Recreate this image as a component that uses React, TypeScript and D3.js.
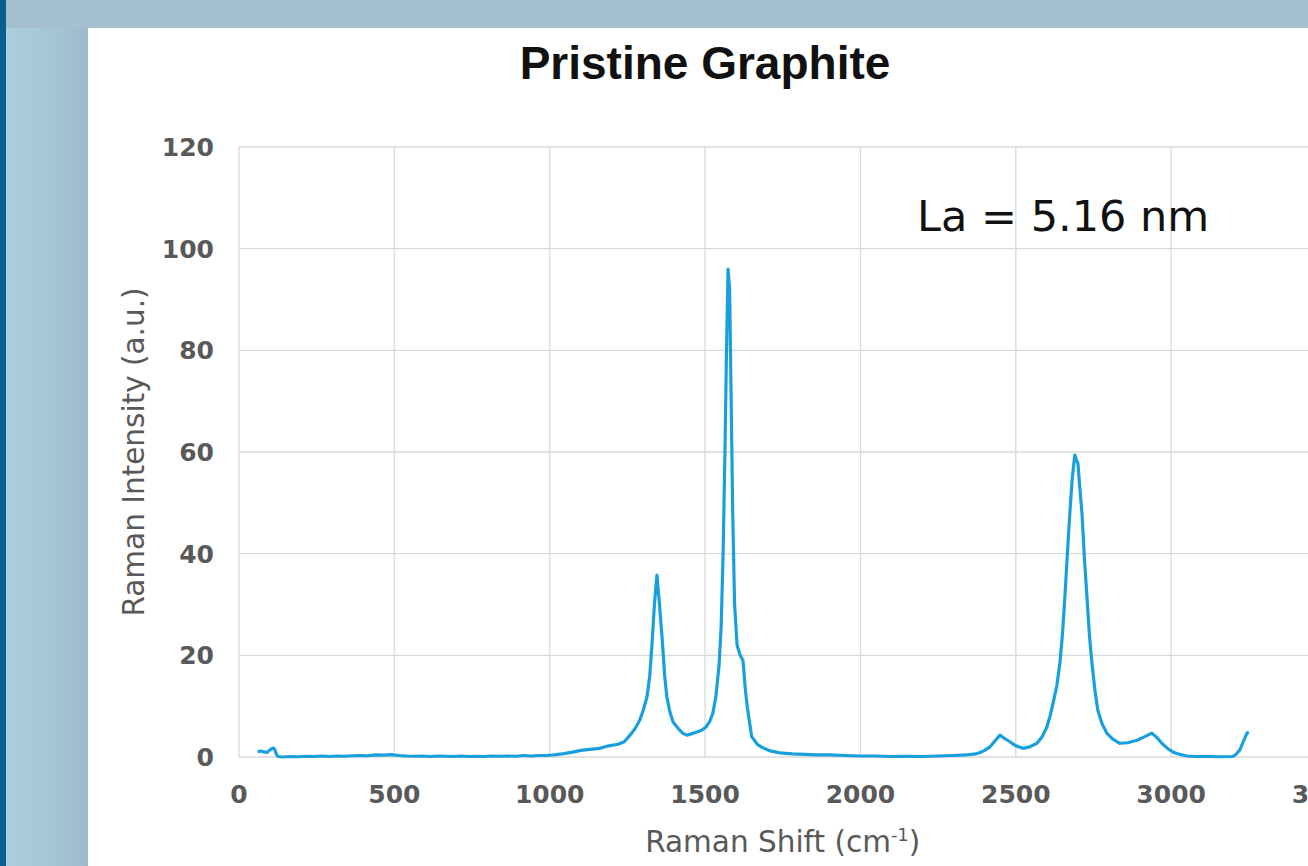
import * as d3 from "d3";

// Raman spectrum (cm-1 vs a.u.)
const ramanShift = [
  60, 70, 80, 90, 100, 110, 115, 120, 125, 140, 165, 190, 215, 240, 265, 290, 315, 340, 365, 390, 415,
  440, 465, 490, 515, 540, 565, 590, 615, 640, 665, 690, 715, 740, 765, 790, 815, 840, 865, 890, 915,
  940, 965, 990, 1000, 1020, 1040, 1070, 1100, 1130, 1160, 1190, 1220, 1240, 1260, 1275, 1290, 1300,
  1313, 1322, 1330, 1337, 1345, 1352, 1361, 1370, 1377, 1387, 1397, 1415, 1430, 1442, 1458, 1474, 1490,
  1503, 1515, 1525, 1535, 1545, 1552, 1558, 1564, 1569, 1574, 1579, 1584, 1589, 1595, 1603, 1613, 1622,
  1630, 1636, 1650, 1668, 1686, 1710, 1741, 1780, 1820, 1860, 1900, 1950, 2000, 2050, 2100, 2150, 2200,
  2250, 2300, 2340, 2370, 2385, 2400, 2417, 2435, 2449, 2465, 2481, 2500, 2523, 2545, 2568, 2585, 2600,
  2610, 2620, 2632, 2642, 2650, 2658, 2666, 2674, 2682, 2690, 2695, 2700, 2706, 2713, 2721, 2729, 2737,
  2745, 2755, 2764, 2778, 2793, 2812, 2835, 2860, 2890, 2915, 2938, 2955, 2970, 2990, 3006, 3018, 3050,
  3080, 3120, 3160, 3199, 3210, 3221, 3232, 3244, 3250,
];
const intensity = [
  1.0, 1.2, 1.0, 0.9, 1.4, 1.8, 1.5, 0.6, 0.1, 0.0, 0.1, 0.05, 0.15, 0.1, 0.2, 0.1, 0.2, 0.15, 0.25, 0.3, 0.25,
  0.4, 0.35, 0.45, 0.3, 0.2, 0.15, 0.2, 0.1, 0.2, 0.15, 0.1, 0.2, 0.1, 0.15, 0.1, 0.2, 0.15, 0.2, 0.15, 0.3,
  0.2, 0.3, 0.3, 0.35, 0.45, 0.6, 0.9, 1.3, 1.5, 1.7, 2.2, 2.5, 3.0, 4.4, 5.6, 7.3, 9.0,
  11.8, 16, 23, 30, 35.8, 31, 24, 16, 11.8, 8.8, 6.9, 5.5, 4.6, 4.3, 4.6, 4.9, 5.3,
  5.9, 7.0, 8.6, 12, 18, 26, 40, 60, 80, 96, 92, 70, 48, 30, 22, 20, 19,
  13, 9.8, 4.0, 2.5, 1.8, 1.2, 0.8, 0.6, 0.5, 0.4, 0.4, 0.3, 0.2, 0.2, 0.1, 0.15, 0.1,
  0.2, 0.3, 0.4, 0.6, 0.9, 1.3, 2.0, 3.3, 4.3, 3.6, 3.0, 2.2, 1.7, 2.0, 2.7, 4.0, 5.9,
  8, 10.6, 14, 18.5, 24, 31.5, 40, 48, 55, 59.4, 58.5, 57.8, 53, 48, 39, 31.5, 24,
  18.5, 13, 9.2, 6.5, 4.7, 3.5, 2.7, 2.8, 3.3, 4.0, 4.7, 3.8, 2.7, 1.6, 1.0, 0.7, 0.2,
  0.1, 0.1, 0.05, 0.1, 0.6, 1.4, 3.0, 4.7, 4.9,
];

const xTicks = [0, 500, 1000, 1500, 2000, 2500, 3000, 3500];
const yTicks = [0, 20, 40, 60, 80, 100, 120];

const chartTitle = "Pristine Graphite";
const note = "La = 5.16 nm";

export default function App() {
  const width = 1308;
  const height = 866;
  const font = "'DejaVu Sans', sans-serif";

  const x = d3.scaleLinear().domain([0, 3500]).range([239, 1326.5]);
  const y = d3.scaleLinear().domain([0, 120]).range([757, 147]);

  const points = ramanShift.map((s, i) => [s, intensity[i]] as [number, number]);
  const path = d3
    .line<[number, number]>()
    .x((d) => x(d[0]))
    .y((d) => y(d[1]))(points)!;

  return (
    <svg
      width={width}
      height={height}
      style={{ position: "absolute", left: 0, top: 0, display: "block" }}
    >
      <defs>
        <linearGradient id="side" x1="0" x2="1" y1="0" y2="0">
          <stop offset="0%" stopColor="#aacfde" />
          <stop offset="60%" stopColor="#a4c6d6" />
          <stop offset="100%" stopColor="#9cb9cb" />
        </linearGradient>
      </defs>
      {/* slide background */}
      <rect x={0} y={0} width={width} height={height} fill="#a4c0cf" />
      <rect x={0} y={28} width={88} height={height - 28} fill="url(#side)" />
      <rect x={0} y={0} width={6} height={height} fill="#0a5f8c" />
      <rect x={88} y={28} width={width - 88} height={height - 28} fill="#ffffff" />

      {/* grid */}
      <g stroke="#d9d9d9" strokeWidth={1.3}>
        {yTicks.map((t) => (
          <line key={"h" + t} x1={x(0)} x2={x(3500)} y1={y(t)} y2={y(t)} />
        ))}
        {xTicks.map((t) => (
          <line key={"v" + t} x1={x(t)} x2={x(t)} y1={y(120)} y2={y(0)} />
        ))}
      </g>

      {/* tick labels */}
      <g fontFamily={font} fontWeight="bold" fontSize={25} fill="#595959">
        {yTicks.map((t) => (
          <text key={"yl" + t} x={214} y={y(t)} dy="0.36em" textAnchor="end">
            {t}
          </text>
        ))}
        {xTicks.map((t) => (
          <text key={"xl" + t} x={x(t)} y={803} textAnchor="middle">
            {t}
          </text>
        ))}
      </g>

      {/* spectrum */}
      <path d={path} fill="none" stroke="#19a0dc" strokeWidth={3.2} strokeLinejoin="round" />

      {/* titles */}
      <text
        x={705}
        y={79}
        textAnchor="middle"
        fontFamily="'Liberation Sans', Arial, sans-serif"
        fontWeight="bold"
        fontSize={46}
        fill="#111"
      >
        {chartTitle}
      </text>
      <text x={917} y={231} fontFamily={font} fontSize={43} fill="#111">
        {note}
      </text>
      <text
        x={(x(0) + x(3500)) / 2}
        y={852}
        textAnchor="middle"
        fontFamily={font}
        fontSize={29.5}
        fill="#595959"
      >
        Raman Shift (cm
        <tspan dy={-11} fontSize={18}>
          -1
        </tspan>
        <tspan dy={11}>)</tspan>
      </text>
      <text
        transform={`translate(144, ${(y(0) + y(120)) / 2}) rotate(-90)`}
        textAnchor="middle"
        fontFamily={font}
        fontSize={29.5}
        fill="#595959"
      >
        Raman Intensity (a.u.)
      </text>
    </svg>
  );
}
